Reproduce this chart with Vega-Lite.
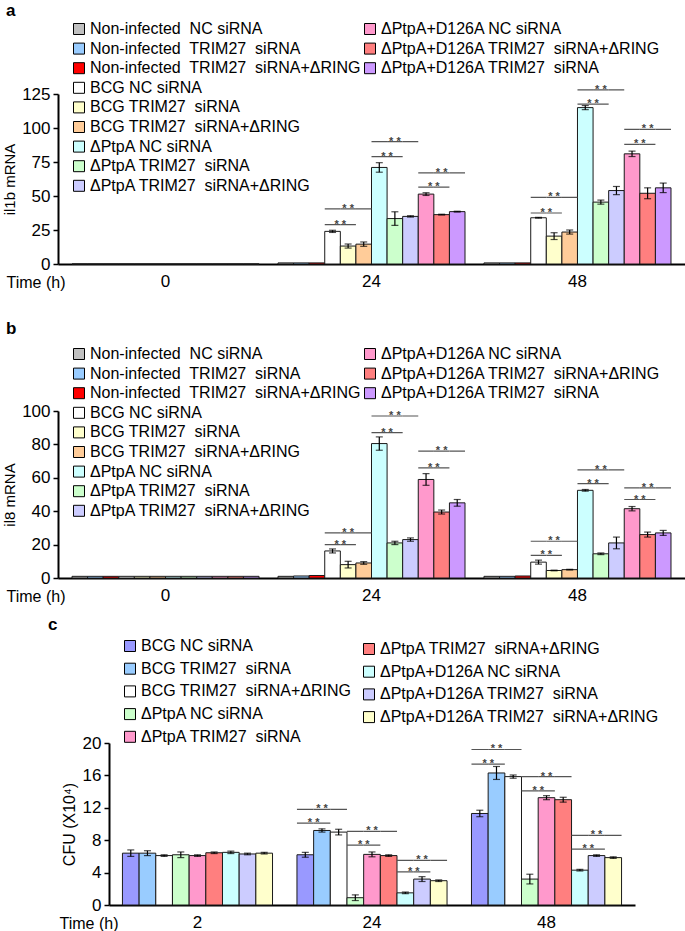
{
  "$schema": "https://vega.github.io/schema/vega-lite/v6.json",
  "padding": {"left": 2, "top": 2, "right": 0, "bottom": 0},
  "bounds": "flush",
  "spacing": 147,
  "resolve": {"scale": {"xOffset": "independent", "fill": "independent"}},
  "datasets": {
    "a": [
      {"t":"0","c":"n1","v":0,"e":0},{"t":"0","c":"n2","v":0,"e":0},{"t":"0","c":"n3","v":0,"e":0},{"t":"0","c":"b1","v":0,"e":0},{"t":"0","c":"b2","v":0,"e":0},{"t":"0","c":"b3","v":0,"e":0},{"t":"0","c":"p1","v":0,"e":0},{"t":"0","c":"p2","v":0,"e":0},{"t":"0","c":"p3","v":0,"e":0},{"t":"0","c":"d1","v":0,"e":0},{"t":"0","c":"d3","v":0,"e":0},{"t":"0","c":"d2","v":0,"e":0},
      {"t":"24","c":"n1","v":0.8,"e":0},{"t":"24","c":"n2","v":0.8,"e":0},{"t":"24","c":"n3","v":0.8,"e":0},{"t":"24","c":"b1","v":24,"e":0.8},{"t":"24","c":"b2","v":13.2,"e":1.5},{"t":"24","c":"b3","v":14.6,"e":1.6},{"t":"24","c":"p1","v":71,"e":3.5},{"t":"24","c":"p2","v":33.4,"e":5},{"t":"24","c":"p3","v":35,"e":0.5},{"t":"24","c":"d1","v":51.4,"e":1},{"t":"24","c":"d3","v":36.3,"e":0.3},{"t":"24","c":"d2","v":38.5,"e":0.3},
      {"t":"48","c":"n1","v":0.8,"e":0},{"t":"48","c":"n2","v":0.8,"e":0},{"t":"48","c":"n3","v":0.8,"e":0},{"t":"48","c":"b1","v":34,"e":0.3},{"t":"48","c":"b2","v":20.5,"e":2.5},{"t":"48","c":"b3","v":23.5,"e":1.5},{"t":"48","c":"p1","v":115,"e":1.5},{"t":"48","c":"p2","v":45.5,"e":1.5},{"t":"48","c":"p3","v":54,"e":3},{"t":"48","c":"d1","v":81,"e":2},{"t":"48","c":"d3","v":52,"e":4},{"t":"48","c":"d2","v":56,"e":3.5}
    ],
    "aBr": [
      {"t":"24","c":"b1","v":29},{"t":"24","c":"b2","v":29},{"t":"24","c":"b1","v":40.6},{"t":"24","c":"b2","v":40.6},{"t":"24","c":"b3","v":40.6},
      {"t":"24","c":"p1","v":79},{"t":"24","c":"p2","v":79},{"t":"24","c":"p1","v":90},{"t":"24","c":"p2","v":90},{"t":"24","c":"p3","v":90},
      {"t":"24","c":"d1","v":56.5},{"t":"24","c":"d3","v":56.5},{"t":"24","c":"d1","v":67},{"t":"24","c":"d3","v":67},{"t":"24","c":"d2","v":67},
      {"t":"48","c":"b1","v":37.5},{"t":"48","c":"b2","v":37.5},{"t":"48","c":"b1","v":49},{"t":"48","c":"b2","v":49},{"t":"48","c":"b3","v":49},
      {"t":"48","c":"p1","v":117.5},{"t":"48","c":"p2","v":117.5},{"t":"48","c":"p1","v":128},{"t":"48","c":"p2","v":128},{"t":"48","c":"p3","v":128},
      {"t":"48","c":"d1","v":88},{"t":"48","c":"d3","v":88},{"t":"48","c":"d1","v":99},{"t":"48","c":"d3","v":99},{"t":"48","c":"d2","v":99}
    ],
    "aSt": [
      {"t":"24","c":"b2","v":29,"n":2},{"t":"24","c":"b2","v":40.6,"n":3},{"t":"24","c":"p2","v":79,"n":2},{"t":"24","c":"p2","v":90,"n":3},{"t":"24","c":"d3","v":56.5,"n":2},{"t":"24","c":"d3","v":67,"n":3},
      {"t":"48","c":"b2","v":37.5,"n":2},{"t":"48","c":"b2","v":49,"n":3},{"t":"48","c":"p2","v":117.5,"n":2},{"t":"48","c":"p2","v":128,"n":3},{"t":"48","c":"d3","v":88,"n":2},{"t":"48","c":"d3","v":99,"n":3}
    ],
    "b": [
      {"t":"0","c":"n1","v":1,"e":0},{"t":"0","c":"n2","v":1,"e":0},{"t":"0","c":"n3","v":1,"e":0},{"t":"0","c":"b1","v":1,"e":0},{"t":"0","c":"b2","v":1,"e":0},{"t":"0","c":"b3","v":1,"e":0},{"t":"0","c":"p1","v":1,"e":0},{"t":"0","c":"p2","v":1,"e":0},{"t":"0","c":"p3","v":1,"e":0},{"t":"0","c":"d1","v":1,"e":0},{"t":"0","c":"d3","v":1,"e":0},{"t":"0","c":"d2","v":1,"e":0},
      {"t":"24","c":"n1","v":1,"e":0},{"t":"24","c":"n2","v":1.2,"e":0},{"t":"24","c":"n3","v":1.5,"e":0},{"t":"24","c":"b1","v":16.2,"e":1.2},{"t":"24","c":"b2","v":8,"e":2},{"t":"24","c":"b3","v":9,"e":0.8},{"t":"24","c":"p1","v":80.5,"e":4},{"t":"24","c":"p2","v":21,"e":1},{"t":"24","c":"p3","v":23,"e":1},{"t":"24","c":"d1","v":59,"e":3.5},{"t":"24","c":"d3","v":39.5,"e":1.2},{"t":"24","c":"d2","v":45,"e":2},
      {"t":"48","c":"n1","v":1,"e":0},{"t":"48","c":"n2","v":1,"e":0},{"t":"48","c":"n3","v":1.2,"e":0},{"t":"48","c":"b1","v":9.5,"e":1.2},{"t":"48","c":"b2","v":4.5,"e":0.2},{"t":"48","c":"b3","v":5,"e":0.2},{"t":"48","c":"p1","v":52.5,"e":0.5},{"t":"48","c":"p2","v":14.5,"e":0.5},{"t":"48","c":"p3","v":21,"e":3.5},{"t":"48","c":"d1","v":41.5,"e":1.3},{"t":"48","c":"d3","v":26,"e":1.5},{"t":"48","c":"d2","v":27,"e":1.5}
    ],
    "bBr": [
      {"t":"24","c":"b1","v":20},{"t":"24","c":"b2","v":20},{"t":"24","c":"b1","v":27},{"t":"24","c":"b2","v":27},{"t":"24","c":"b3","v":27},
      {"t":"24","c":"p1","v":87},{"t":"24","c":"p2","v":87},{"t":"24","c":"p1","v":97},{"t":"24","c":"p2","v":97},{"t":"24","c":"p3","v":97},
      {"t":"24","c":"d1","v":66},{"t":"24","c":"d3","v":66},{"t":"24","c":"d1","v":76},{"t":"24","c":"d3","v":76},{"t":"24","c":"d2","v":76},
      {"t":"48","c":"b1","v":13.5},{"t":"48","c":"b2","v":13.5},{"t":"48","c":"b1","v":22},{"t":"48","c":"b2","v":22},{"t":"48","c":"b3","v":22},
      {"t":"48","c":"p1","v":56.5},{"t":"48","c":"p2","v":56.5},{"t":"48","c":"p1","v":64.7},{"t":"48","c":"p2","v":64.7},{"t":"48","c":"p3","v":64.7},
      {"t":"48","c":"d1","v":47},{"t":"48","c":"d3","v":47},{"t":"48","c":"d1","v":54},{"t":"48","c":"d3","v":54},{"t":"48","c":"d2","v":54}
    ],
    "bSt": [
      {"t":"24","c":"b2","v":20,"n":2},{"t":"24","c":"b2","v":27,"n":3},{"t":"24","c":"p2","v":87,"n":2},{"t":"24","c":"p2","v":97,"n":3},{"t":"24","c":"d3","v":66,"n":2},{"t":"24","c":"d3","v":76,"n":3},
      {"t":"48","c":"b2","v":13.5,"n":2},{"t":"48","c":"b2","v":22,"n":3},{"t":"48","c":"p2","v":56.5,"n":2},{"t":"48","c":"p2","v":64.7,"n":3},{"t":"48","c":"d3","v":47,"n":2},{"t":"48","c":"d3","v":54,"n":3}
    ],
    "c": [
      {"t":"2","c":"b1","v":6.4,"e":0.4},{"t":"2","c":"b2","v":6.4,"e":0.3},{"t":"2","c":"b3","v":6.1,"e":0.1},{"t":"2","c":"p1","v":6.2,"e":0.35},{"t":"2","c":"p2","v":6.1,"e":0.1},{"t":"2","c":"p3","v":6.45,"e":0.1},{"t":"2","c":"d1","v":6.5,"e":0.15},{"t":"2","c":"d2","v":6.3,"e":0.1},{"t":"2","c":"d3","v":6.4,"e":0.1},
      {"t":"24","c":"b1","v":6.2,"e":0.3},{"t":"24","c":"b2","v":9.2,"e":0.2},{"t":"24","c":"b3","v":9.0,"e":0.35},{"t":"24","c":"p1","v":0.9,"e":0.35},{"t":"24","c":"p2","v":6.25,"e":0.3},{"t":"24","c":"p3","v":6.1,"e":0.1},{"t":"24","c":"d1","v":1.5,"e":0.1},{"t":"24","c":"d2","v":3.2,"e":0.3},{"t":"24","c":"d3","v":3.0,"e":0.1},
      {"t":"48","c":"b1","v":11.3,"e":0.4},{"t":"48","c":"b2","v":16.3,"e":0.8},{"t":"48","c":"b3","v":15.85,"e":0.2},{"t":"48","c":"p1","v":3.2,"e":0.6},{"t":"48","c":"p2","v":13.25,"e":0.25},{"t":"48","c":"p3","v":13.0,"e":0.3},{"t":"48","c":"d1","v":4.3,"e":0.1},{"t":"48","c":"d2","v":6.1,"e":0.1},{"t":"48","c":"d3","v":5.85,"e":0.1}
    ],
    "cBr": [
      {"t":"24","c":"b1","v":10.1},{"t":"24","c":"b2","v":10.1},{"t":"24","c":"b1","v":11.8},{"t":"24","c":"b2","v":11.8},{"t":"24","c":"b3","v":11.8},
      {"t":"24","c":"p1","v":7.4},{"t":"24","c":"p2","v":7.4},{"t":"24","c":"p1","v":9.1},{"t":"24","c":"p2","v":9.1},{"t":"24","c":"p3","v":9.1},
      {"t":"24","c":"d1","v":4.1},{"t":"24","c":"d2","v":4.1},{"t":"24","c":"d1","v":5.5},{"t":"24","c":"d2","v":5.5},{"t":"24","c":"d3","v":5.5},
      {"t":"48","c":"b1","v":17.4},{"t":"48","c":"b2","v":17.4},{"t":"48","c":"b1","v":19.2},{"t":"48","c":"b2","v":19.2},{"t":"48","c":"b3","v":19.2},
      {"t":"48","c":"p1","v":14.1},{"t":"48","c":"p2","v":14.1},{"t":"48","c":"p1","v":15.85},{"t":"48","c":"p2","v":15.85},{"t":"48","c":"p3","v":15.85},
      {"t":"48","c":"d1","v":6.9},{"t":"48","c":"d2","v":6.9},{"t":"48","c":"d1","v":8.6},{"t":"48","c":"d2","v":8.6},{"t":"48","c":"d3","v":8.6}
    ],
    "cSt": [
      {"t":"24","c":"b2","v":10.1,"n":2},{"t":"24","c":"b2","v":11.8,"n":3},{"t":"24","c":"p2","v":7.4,"n":2},{"t":"24","c":"p2","v":9.1,"n":3},{"t":"24","c":"d2","v":4.1,"n":2},{"t":"24","c":"d2","v":5.5,"n":3},
      {"t":"48","c":"b2","v":17.4,"n":2},{"t":"48","c":"b2","v":19.2,"n":3},{"t":"48","c":"p2","v":14.1,"n":2},{"t":"48","c":"p2","v":15.85,"n":3},{"t":"48","c":"d2","v":6.9,"n":2},{"t":"48","c":"d2","v":8.6,"n":3}
    ]
  },
  "vconcat": [
    {
      "width": 627, "height": 170,
      "title": {"text": "a", "anchor": "start", "frame": "group", "dx": -52, "offset": 1},
      "encoding": {
        "x": {"field": "t", "type": "ordinal", "sort": ["0","24","48"], "scale": {"paddingInner": 0.092, "paddingOuter": 0.068},
              "axis": {"title": "Time (h)", "ticks": false, "labelAngle": 0, "labelPadding": 9, "domainWidth": 2, "titleX": -52, "titleY": 23, "titleAlign": "left", "titleBaseline": "alphabetic", "titleFontSize": 16}},
        "xOffset": {"field": "c", "type": "nominal", "scale": {"domain": ["n1","n2","n3","b1","b2","b3","p1","p2","p3","d1","d3","d2"], "paddingInner": 0, "paddingOuter": 0}},
        "y": {"field": "v", "type": "quantitative", "stack": null, "scale": {"domain": [0,125], "nice": false},
              "axis": {"title": "il1b mRNA", "values": [0,25,50,75,100,125], "domainWidth": 2, "tickWidth": 1.5, "tickSize": 5, "labelPadding": 3, "titlePadding": 4, "titleFontSize": 15}}
      },
      "layer": [
        {"data": {"name": "a"}, "transform": [{"filter": "indexof(['d1','d2','d3'], datum.c) < 0"}],
         "mark": {"type": "bar", "stroke": "#1a1a1a", "strokeWidth": 1},
         "encoding": {"fill": {"field": "c", "type": "nominal",
           "scale": {"domain": ["n1","n2","n3","b1","b2","b3","p1","p2","p3"], "range": ["#c0c0c0","#99ccff","#ff0000","#ffffff","#ffffcc","#ffcc99","#ccffff","#ccffcc","#ccccff"]},
           "legend": {"title": null, "orient": "none", "legendX": 13, "legendY": -73, "rowPadding": 3.6,
             "labelExpr": "datum.value=='n1'?'Non-infected\u00a0 NC siRNA':datum.value=='n2'?'Non-infected\u00a0 TRIM27\u00a0 siRNA':datum.value=='n3'?'Non-infected\u00a0 TRIM27\u00a0 siRNA+ΔRING':datum.value=='b1'?'BCG NC siRNA':datum.value=='b2'?'BCG TRIM27\u00a0 siRNA':datum.value=='b3'?'BCG TRIM27\u00a0 siRNA+ΔRING':datum.value=='p1'?'ΔPtpA NC siRNA':datum.value=='p2'?'ΔPtpA TRIM27\u00a0 siRNA':datum.value=='p3'?'ΔPtpA TRIM27\u00a0 siRNA+ΔRING':datum.value=='d1'?'ΔPtpA+D126A NC siRNA':datum.value=='d2'?'ΔPtpA+D126A TRIM27\u00a0 siRNA':'ΔPtpA+D126A TRIM27\u00a0 siRNA+ΔRING'"}}}},
        {"data": {"name": "a"}, "transform": [{"filter": "indexof(['d1','d2','d3'], datum.c) >= 0"}],
         "mark": {"type": "bar", "stroke": "#1a1a1a", "strokeWidth": 1},
         "encoding": {"fill": {"field": "c", "type": "nominal",
           "scale": {"domain": ["d1","d3","d2"], "range": ["#ff99cc","#ff7f7f","#cc99ff"]},
           "legend": {"title": null, "orient": "none", "legendX": 304, "legendY": -73, "rowPadding": 3.6,
             "labelExpr": "datum.value=='n1'?'Non-infected\u00a0 NC siRNA':datum.value=='n2'?'Non-infected\u00a0 TRIM27\u00a0 siRNA':datum.value=='n3'?'Non-infected\u00a0 TRIM27\u00a0 siRNA+ΔRING':datum.value=='b1'?'BCG NC siRNA':datum.value=='b2'?'BCG TRIM27\u00a0 siRNA':datum.value=='b3'?'BCG TRIM27\u00a0 siRNA+ΔRING':datum.value=='p1'?'ΔPtpA NC siRNA':datum.value=='p2'?'ΔPtpA TRIM27\u00a0 siRNA':datum.value=='p3'?'ΔPtpA TRIM27\u00a0 siRNA+ΔRING':datum.value=='d1'?'ΔPtpA+D126A NC siRNA':datum.value=='d2'?'ΔPtpA+D126A TRIM27\u00a0 siRNA':'ΔPtpA+D126A TRIM27\u00a0 siRNA+ΔRING'"}}}},
        {"data": {"name": "a"}, "transform": [{"filter": "datum.e > 0"}],
         "mark": {"type": "errorbar", "ticks": {"size": 7}, "color": "black", "thickness": 1.2},
         "encoding": {"yError": {"field": "e"}}},
        {"data": {"name": "aBr"}, "mark": {"type": "bar", "fillOpacity": 0, "stroke": "#555555", "strokeWidth": 1.2},
         "encoding": {"y2": {"field": "v"}}},
        {"data": {"name": "aSt"}, "transform": [{"filter": "datum.n == 3"}],
         "mark": {"type": "text", "text": "* *", "fontSize": 11, "fontWeight": "bold", "color": "#444444", "baseline": "alphabetic", "dy": 3}},
        {"data": {"name": "aSt"}, "transform": [{"filter": "datum.n == 2"}],
         "mark": {"type": "text", "text": "* *", "fontSize": 11, "fontWeight": "bold", "color": "#444444", "baseline": "alphabetic", "dy": 3, "dx": -7.8}}
      ],
      "resolve": {"scale": {"fill": "independent"}}
    },
    {
      "width": 627, "height": 167,
      "title": {"text": "b", "anchor": "start", "frame": "group", "dx": -52, "offset": 8},
      "encoding": {
        "x": {"field": "t", "type": "ordinal", "sort": ["0","24","48"], "scale": {"paddingInner": 0.092, "paddingOuter": 0.068},
              "axis": {"title": "Time (h)", "ticks": false, "labelAngle": 0, "labelPadding": 9, "domainWidth": 2, "titleX": -52, "titleY": 23, "titleAlign": "left", "titleBaseline": "alphabetic", "titleFontSize": 16}},
        "xOffset": {"field": "c", "type": "nominal", "scale": {"domain": ["n1","n2","n3","b1","b2","b3","p1","p2","p3","d1","d3","d2"], "paddingInner": 0, "paddingOuter": 0}},
        "y": {"field": "v", "type": "quantitative", "stack": null, "scale": {"domain": [0,100], "nice": false},
              "axis": {"title": "il8 mRNA", "values": [0,20,40,60,80,100], "domainWidth": 2, "tickWidth": 1.5, "tickSize": 5, "labelPadding": 3, "titlePadding": 4, "titleFontSize": 15}}
      },
      "layer": [
        {"data": {"name": "b"}, "transform": [{"filter": "indexof(['d1','d2','d3'], datum.c) < 0"}],
         "mark": {"type": "bar", "stroke": "#1a1a1a", "strokeWidth": 1},
         "encoding": {"fill": {"field": "c", "type": "nominal",
           "scale": {"domain": ["n1","n2","n3","b1","b2","b3","p1","p2","p3"], "range": ["#c0c0c0","#99ccff","#ff0000","#ffffff","#ffffcc","#ffcc99","#ccffff","#ccffcc","#ccccff"]},
           "legend": {"title": null, "orient": "none", "legendX": 13, "legendY": -65, "rowPadding": 3.6,
             "labelExpr": "datum.value=='n1'?'Non-infected\u00a0 NC siRNA':datum.value=='n2'?'Non-infected\u00a0 TRIM27\u00a0 siRNA':datum.value=='n3'?'Non-infected\u00a0 TRIM27\u00a0 siRNA+ΔRING':datum.value=='b1'?'BCG NC siRNA':datum.value=='b2'?'BCG TRIM27\u00a0 siRNA':datum.value=='b3'?'BCG TRIM27\u00a0 siRNA+ΔRING':datum.value=='p1'?'ΔPtpA NC siRNA':datum.value=='p2'?'ΔPtpA TRIM27\u00a0 siRNA':datum.value=='p3'?'ΔPtpA TRIM27\u00a0 siRNA+ΔRING':datum.value=='d1'?'ΔPtpA+D126A NC siRNA':datum.value=='d2'?'ΔPtpA+D126A TRIM27\u00a0 siRNA':'ΔPtpA+D126A TRIM27\u00a0 siRNA+ΔRING'"}}}},
        {"data": {"name": "b"}, "transform": [{"filter": "indexof(['d1','d2','d3'], datum.c) >= 0"}],
         "mark": {"type": "bar", "stroke": "#1a1a1a", "strokeWidth": 1},
         "encoding": {"fill": {"field": "c", "type": "nominal",
           "scale": {"domain": ["d1","d3","d2"], "range": ["#ff99cc","#ff7f7f","#cc99ff"]},
           "legend": {"title": null, "orient": "none", "legendX": 304, "legendY": -65, "rowPadding": 3.6,
             "labelExpr": "datum.value=='n1'?'Non-infected\u00a0 NC siRNA':datum.value=='n2'?'Non-infected\u00a0 TRIM27\u00a0 siRNA':datum.value=='n3'?'Non-infected\u00a0 TRIM27\u00a0 siRNA+ΔRING':datum.value=='b1'?'BCG NC siRNA':datum.value=='b2'?'BCG TRIM27\u00a0 siRNA':datum.value=='b3'?'BCG TRIM27\u00a0 siRNA+ΔRING':datum.value=='p1'?'ΔPtpA NC siRNA':datum.value=='p2'?'ΔPtpA TRIM27\u00a0 siRNA':datum.value=='p3'?'ΔPtpA TRIM27\u00a0 siRNA+ΔRING':datum.value=='d1'?'ΔPtpA+D126A NC siRNA':datum.value=='d2'?'ΔPtpA+D126A TRIM27\u00a0 siRNA':'ΔPtpA+D126A TRIM27\u00a0 siRNA+ΔRING'"}}}},
        {"data": {"name": "b"}, "transform": [{"filter": "datum.e > 0"}],
         "mark": {"type": "errorbar", "ticks": {"size": 7}, "color": "black", "thickness": 1.2},
         "encoding": {"yError": {"field": "e"}}},
        {"data": {"name": "bBr"}, "mark": {"type": "bar", "fillOpacity": 0, "stroke": "#555555", "strokeWidth": 1.2},
         "encoding": {"y2": {"field": "v"}}},
        {"data": {"name": "bSt"}, "transform": [{"filter": "datum.n == 3"}],
         "mark": {"type": "text", "text": "* *", "fontSize": 11, "fontWeight": "bold", "color": "#444444", "baseline": "alphabetic", "dy": 3}},
        {"data": {"name": "bSt"}, "transform": [{"filter": "datum.n == 2"}],
         "mark": {"type": "text", "text": "* *", "fontSize": 11, "fontWeight": "bold", "color": "#444444", "baseline": "alphabetic", "dy": 3, "dx": -7.8}}
      ],
      "resolve": {"scale": {"fill": "independent"}}
    },
    {
      "width": 627, "height": 180,
      "title": {"text": "c", "anchor": "start", "frame": "group", "dx": -10, "offset": 4},
      "encoding": {
        "x": {"field": "t", "type": "ordinal", "sort": ["2","24","48"], "scale": {"range": [51, 577], "paddingInner": 0.14, "paddingOuter": 0.077},
              "axis": {"title": "Time (h)", "ticks": false, "labelAngle": 0, "labelPadding": 9, "domainWidth": 2, "titleX": 1, "titleY": 23, "titleAlign": "left", "titleBaseline": "alphabetic", "titleFontSize": 16}},
        "xOffset": {"field": "c", "type": "nominal", "scale": {"domain": ["b1","b2","b3","p1","p2","p3","d1","d2","d3"], "paddingInner": 0, "paddingOuter": 0}},
        "y": {"field": "v", "type": "quantitative", "stack": null, "scale": {"domain": [0,20], "nice": false, "range": [180, 18]},
              "axis": {"title": "CFU (X10⁴)", "values": [0,4,8,12,16,20], "offset": -51, "domainWidth": 2, "tickWidth": 1.5, "tickSize": 5, "labelPadding": 3, "titlePadding": 5, "titleFontSize": 16}}
      },
      "layer": [
        {"data": {"name": "c"}, "transform": [{"filter": "indexof(['b1','b2','b3','p1','p2'], datum.c) >= 0"}],
         "mark": {"type": "bar", "stroke": "#1a1a1a", "strokeWidth": 1},
         "encoding": {"fill": {"field": "c", "type": "nominal",
           "scale": {"domain": ["b1","b2","b3","p1","p2"], "range": ["#9999ff","#99ccff","#ffffff","#ccffcc","#ff99cc"]},
           "legend": {"title": null, "orient": "none", "legendX": 64, "legendY": -87, "rowPadding": 6.7,
             "labelExpr": "datum.value=='n1'?'Non-infected\u00a0 NC siRNA':datum.value=='n2'?'Non-infected\u00a0 TRIM27\u00a0 siRNA':datum.value=='n3'?'Non-infected\u00a0 TRIM27\u00a0 siRNA+ΔRING':datum.value=='b1'?'BCG NC siRNA':datum.value=='b2'?'BCG TRIM27\u00a0 siRNA':datum.value=='b3'?'BCG TRIM27\u00a0 siRNA+ΔRING':datum.value=='p1'?'ΔPtpA NC siRNA':datum.value=='p2'?'ΔPtpA TRIM27\u00a0 siRNA':datum.value=='p3'?'ΔPtpA TRIM27\u00a0 siRNA+ΔRING':datum.value=='d1'?'ΔPtpA+D126A NC siRNA':datum.value=='d2'?'ΔPtpA+D126A TRIM27\u00a0 siRNA':'ΔPtpA+D126A TRIM27\u00a0 siRNA+ΔRING'"}}}},
        {"data": {"name": "c"}, "transform": [{"filter": "indexof(['b1','b2','b3','p1','p2'], datum.c) < 0"}],
         "mark": {"type": "bar", "stroke": "#1a1a1a", "strokeWidth": 1},
         "encoding": {"fill": {"field": "c", "type": "nominal",
           "scale": {"domain": ["p3","d1","d2","d3"], "range": ["#ff7f7f","#ccffff","#ccccff","#ffffcc"]},
           "legend": {"title": null, "orient": "none", "legendX": 303, "legendY": -84, "rowPadding": 6.7,
             "labelExpr": "datum.value=='n1'?'Non-infected\u00a0 NC siRNA':datum.value=='n2'?'Non-infected\u00a0 TRIM27\u00a0 siRNA':datum.value=='n3'?'Non-infected\u00a0 TRIM27\u00a0 siRNA+ΔRING':datum.value=='b1'?'BCG NC siRNA':datum.value=='b2'?'BCG TRIM27\u00a0 siRNA':datum.value=='b3'?'BCG TRIM27\u00a0 siRNA+ΔRING':datum.value=='p1'?'ΔPtpA NC siRNA':datum.value=='p2'?'ΔPtpA TRIM27\u00a0 siRNA':datum.value=='p3'?'ΔPtpA TRIM27\u00a0 siRNA+ΔRING':datum.value=='d1'?'ΔPtpA+D126A NC siRNA':datum.value=='d2'?'ΔPtpA+D126A TRIM27\u00a0 siRNA':'ΔPtpA+D126A TRIM27\u00a0 siRNA+ΔRING'"}}}},
        {"data": {"name": "c"}, "transform": [{"filter": "datum.e > 0"}],
         "mark": {"type": "errorbar", "ticks": {"size": 7}, "color": "black", "thickness": 1.2},
         "encoding": {"yError": {"field": "e"}}},
        {"data": {"name": "cBr"}, "mark": {"type": "bar", "fillOpacity": 0, "stroke": "#555555", "strokeWidth": 1.2},
         "encoding": {"y2": {"field": "v"}}},
        {"data": {"name": "cSt"}, "transform": [{"filter": "datum.n == 3"}],
         "mark": {"type": "text", "text": "* *", "fontSize": 11, "fontWeight": "bold", "color": "#444444", "baseline": "alphabetic", "dy": 3}},
        {"data": {"name": "cSt"}, "transform": [{"filter": "datum.n == 2"}],
         "mark": {"type": "text", "text": "* *", "fontSize": 11, "fontWeight": "bold", "color": "#444444", "baseline": "alphabetic", "dy": 3, "dx": -8.3}}
      ],
      "resolve": {"scale": {"fill": "independent"}}
    }
  ],
  "config": {
    "font": "Liberation Sans",
    "view": {"stroke": null},
    "axis": {"grid": false, "domainColor": "black", "tickColor": "black", "labelColor": "black", "titleColor": "black", "labelFontSize": 17, "titleFontWeight": "normal"},
    "legend": {"symbolType": "square", "symbolSize": 121, "symbolStrokeColor": "black", "symbolStrokeWidth": 1, "labelFontSize": 16, "labelColor": "black", "labelLimit": 500, "labelOffset": 3, "padding": 0},
    "title": {"fontSize": 17, "fontWeight": "bold", "color": "black"}
  }
}
